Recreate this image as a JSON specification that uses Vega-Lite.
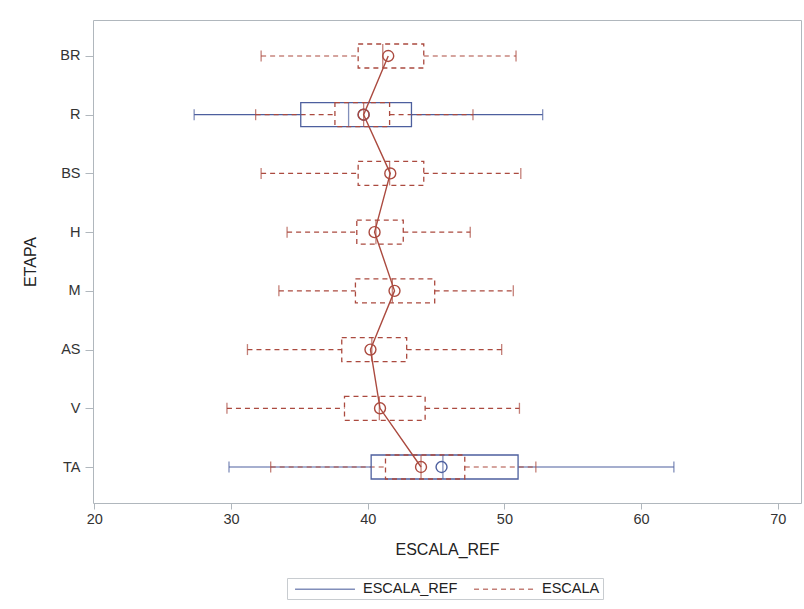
{
  "$schema": "https://vega.github.io/schema/vega-lite/v6.json",
  "autosize": {"type": "none"},
  "padding": {"left": 93, "top": 20, "right": 3, "bottom": 106},
  "width": 708,
  "height": 483,
  "background": "white",
  "config": {
    "font": "Liberation Sans",
    "view": {"stroke": "#b0b7bd", "strokeWidth": 1},
    "axis": {"grid": false, "domain": false, "tickColor": "#b0b7bd", "labelColor": "#333333", "titleColor": "#222222", "labelFont": "Liberation Sans", "titleFont": "Liberation Sans", "titleFontWeight": "normal"},
    "legend": {"labelFont": "Liberation Sans"}
  },
  "data": {
    "values": [
      {"ETAPA": "R", "idx": 2, "serie": "ESCALA_REF", "min": 27.3, "q1": 35.1, "med": 38.6, "q3": 43.2, "max": 52.8, "mean": 39.7},
      {"ETAPA": "TA", "idx": 8, "serie": "ESCALA_REF", "min": 29.85, "q1": 40.25, "med": 45.5, "q3": 51.0, "max": 62.4, "mean": 45.4},
      {"ETAPA": "BR", "idx": 1, "serie": "ESCALA", "min": 32.2, "q1": 39.3, "med": 41.1, "q3": 44.1, "max": 50.85, "mean": 41.5},
      {"ETAPA": "R", "idx": 2, "serie": "ESCALA", "min": 31.8, "q1": 37.6, "med": 39.7, "q3": 41.6, "max": 47.7, "mean": 39.7},
      {"ETAPA": "BS", "idx": 3, "serie": "ESCALA", "min": 32.2, "q1": 39.3, "med": 41.6, "q3": 44.1, "max": 51.2, "mean": 41.65},
      {"ETAPA": "H", "idx": 4, "serie": "ESCALA", "min": 34.1, "q1": 39.2, "med": 40.6, "q3": 42.6, "max": 47.5, "mean": 40.5},
      {"ETAPA": "M", "idx": 5, "serie": "ESCALA", "min": 33.5, "q1": 39.1, "med": 41.8, "q3": 44.9, "max": 50.65, "mean": 41.96},
      {"ETAPA": "AS", "idx": 6, "serie": "ESCALA", "min": 31.2, "q1": 38.1, "med": 40.3, "q3": 42.85, "max": 49.8, "mean": 40.2},
      {"ETAPA": "V", "idx": 7, "serie": "ESCALA", "min": 29.7, "q1": 38.3, "med": 40.85, "q3": 44.2, "max": 51.1, "mean": 40.9},
      {"ETAPA": "TA", "idx": 8, "serie": "ESCALA", "min": 32.9, "q1": 41.3, "med": 43.9, "q3": 47.1, "max": 52.3, "mean": 43.9}
    ]
  },
  "encoding": {
    "y": {
      "field": "ETAPA", "type": "nominal",
      "sort": ["BR", "R", "BS", "H", "M", "AS", "V", "TA"],
      "scale": {"type": "point", "padding": 0.613},
      "axis": {"title": "ETAPA", "titleFontSize": 16, "labelFontSize": 14.5, "tickSize": 8, "labelPadding": 5, "titlePadding": 21}
    },
    "color": {
      "field": "serie", "type": "nominal",
      "scale": {"domain": ["ESCALA_REF", "ESCALA"], "range": ["#4d5f9e", "#ab4a3f"]},
      "legend": {
        "title": null, "orient": "none", "direction": "horizontal", "legendX": 194, "legendY": 558,
        "symbolType": "M-4.28,0H4.28", "symbolSize": 196, "symbolStrokeWidth": 1.5, "symbolOffset": 27,
        "labelFontSize": 14.5, "labelColor": "#222222", "labelOffset": 30, "columnPadding": 11,
        "strokeColor": "#c8ccd0", "padding": 3, "fillColor": "white"
      }
    }
  },
  "layer": [
    {
      "mark": {"type": "rule", "strokeWidth": 1.2},
      "encoding": {
        "x": {"field": "min", "type": "quantitative", "scale": {"domain": [19.9, 71.7], "nice": false, "zero": false},
          "axis": {"title": "ESCALA_REF", "titleFontSize": 16, "labelFontSize": 14.5, "values": [20, 30, 40, 50, 60, 70], "tickSize": 6, "labelPadding": 3, "titlePadding": 16}},
        "x2": {"field": "q1"},
        "strokeDash": {"field": "serie", "type": "nominal", "scale": {"domain": ["ESCALA_REF", "ESCALA"], "range": [[1, 0], [5, 4]]}, "legend": null}
      }
    },
    {
      "mark": {"type": "rule", "strokeWidth": 1.2},
      "encoding": {
        "x": {"field": "q3", "type": "quantitative"},
        "x2": {"field": "max"},
        "strokeDash": {"field": "serie", "type": "nominal", "legend": null}
      }
    },
    {
      "mark": {"type": "tick", "thickness": 1.3, "size": 11, "orient": "vertical"},
      "encoding": {"x": {"field": "min", "type": "quantitative"}}
    },
    {
      "mark": {"type": "tick", "thickness": 1.3, "size": 11, "orient": "vertical"},
      "encoding": {"x": {"field": "max", "type": "quantitative"}}
    },
    {
      "mark": {"type": "bar", "filled": false, "size": 24, "strokeWidth": 1.3},
      "encoding": {
        "x": {"field": "q1", "type": "quantitative"},
        "x2": {"field": "q3"},
        "strokeDash": {"field": "serie", "type": "nominal", "legend": null}
      }
    },
    {
      "mark": {"type": "tick", "thickness": 1.3, "size": 24, "orient": "vertical"},
      "encoding": {"x": {"field": "med", "type": "quantitative"}}
    },
    {
      "transform": [{"filter": "datum.serie === 'ESCALA'"}],
      "mark": {"type": "line", "strokeWidth": 1.4},
      "encoding": {
        "x": {"field": "mean", "type": "quantitative"},
        "order": {"field": "idx", "type": "quantitative"}
      }
    },
    {
      "mark": {"type": "point", "shape": "circle", "filled": false, "size": 120, "strokeWidth": 1.4, "opacity": 1},
      "encoding": {"x": {"field": "mean", "type": "quantitative"}}
    }
  ]
}
